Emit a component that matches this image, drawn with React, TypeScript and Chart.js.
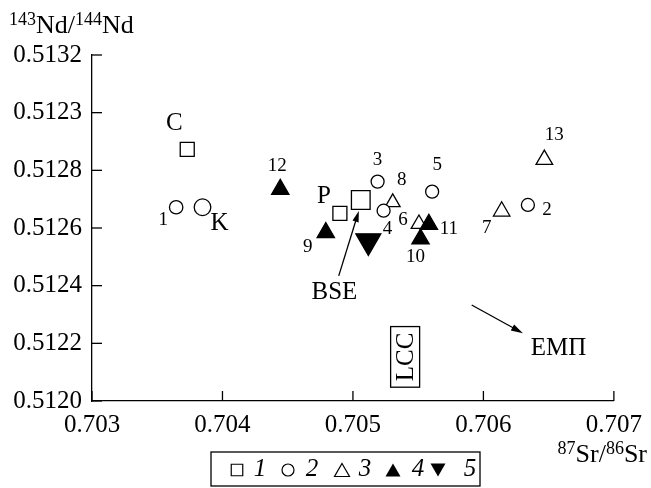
import React, { useEffect, useRef } from "react";
import { Chart, registerables } from "chart.js";

Chart.register(...registerables);

// ---------- data ----------
const xTickValues = [0.703, 0.704, 0.705, 0.706, 0.707];
const xTickLabels = ["0.703", "0.704", "0.705", "0.706", "0.707"];
const yTickValues = [0.512, 0.5122, 0.5124, 0.5126, 0.5128, 0.513, 0.5132];
const yTickLabels = ["0.5120", "0.5122", "0.5124", "0.5126", "0.5128", "0.5123", "0.5132"];

const seriesNames = ["1", "2", "3", "4", "5"];

// series 1: open squares (C, P, BSE)
const squareX = [0.70373, 0.7049, 0.70506];
const squareY = [0.512873, 0.512651, 0.512697];
const squareLabels = ["C", "P", ""];

// series 2: open circles
const circleX = [0.703645, 0.703847, 0.705189, 0.705235, 0.705607, 0.706341];
const circleY = [0.512672, 0.512672, 0.512761, 0.51266, 0.512726, 0.51268];
const circleLabels = ["1", "K", "3", "4", "5", "2"];

// series 3: open triangles
const openTriX = [0.705305, 0.705506, 0.70614, 0.706467];
const openTriY = [0.512689, 0.512614, 0.512658, 0.512837];
const openTriLabels = ["8", "6", "7", "13"];

// series 4: filled triangles
const filledTriX = [0.704443, 0.704792, 0.705518, 0.705582];
const filledTriY = [0.512734, 0.512584, 0.512562, 0.512613];
const filledTriLabels = ["12", "9", "10", "11"];

// series 5: filled down triangle
const downTriX = [0.705118];
const downTriY = [0.512555];
const downTriLabels = [""];

// annotation anchors (data coordinates)
const bseText = { x: 0.704858, y: 0.512375, text: "BSE" };
const bseArrow = { x1: 0.704891, y1: 0.512434, x2: 0.705045, y2: 0.512659 };
const empText = { x: 0.706576, y: 0.512184, text: "EMП" };
const empArrow = { x1: 0.70591, y1: 0.512333, x2: 0.706303, y2: 0.512235 };
const lccBox = { x: 0.7054, y: 0.512153, text: "LCC" };

// ---------- styles ----------
const SERIF = '"Liberation Serif", "Times New Roman", serif';
const labelOffsets: Record<string, [number, number]> = {
  C: [-13, -26],
  P: [-16, -17],
  "1": [-13, 13],
  K: [17, 16],
  "3": [0, -22],
  "4": [4, 18],
  "5": [5, -27],
  "2": [19, 5],
  "8": [9, -22],
  "6": [-16, -4],
  "7": [-15, 17],
  "13": [10, -25],
  "12": [-3, -23],
  "9": [-18, 14],
  "10": [-5, 18],
  "11": [20, 5],
};

function xy(xs: number[], ys: number[]) {
  return xs.map((x, i) => ({ x, y: ys[i] }));
}

function drawArrow(ctx: CanvasRenderingContext2D, x1: number, y1: number, x2: number, y2: number, head = 12, hw = 4) {
  const a = Math.atan2(y2 - y1, x2 - x1);
  ctx.beginPath();
  ctx.moveTo(x1, y1);
  ctx.lineTo(x2 - head * 0.6 * Math.cos(a), y2 - head * 0.6 * Math.sin(a));
  ctx.stroke();
  ctx.beginPath();
  ctx.moveTo(x2, y2);
  ctx.lineTo(x2 - head * Math.cos(a) + hw * Math.sin(a), y2 - head * Math.sin(a) - hw * Math.cos(a));
  ctx.lineTo(x2 - head * Math.cos(a) - hw * Math.sin(a), y2 - head * Math.sin(a) + hw * Math.cos(a));
  ctx.closePath();
  ctx.fill();
}

function richText(
  ctx: CanvasRenderingContext2D,
  segs: { t: string; sup?: boolean }[],
  x: number,
  y: number,
  align: "left" | "right"
) {
  const mainFont = `26px ${SERIF}`;
  const supFont = `18px ${SERIF}`;
  let total = 0;
  segs.forEach((s) => {
    ctx.font = s.sup ? supFont : mainFont;
    total += ctx.measureText(s.t).width;
  });
  let cx = align === "right" ? x - total : x;
  ctx.textAlign = "left";
  ctx.textBaseline = "alphabetic";
  segs.forEach((s) => {
    ctx.font = s.sup ? supFont : mainFont;
    ctx.fillText(s.t, cx, s.sup ? y - 8 : y);
    cx += ctx.measureText(s.t).width;
  });
}

function drawMarker(ctx: CanvasRenderingContext2D, kind: string, x: number, y: number, size: number, filled: boolean) {
  ctx.beginPath();
  if (kind === "rect") {
    ctx.rect(x - size / 2, y - size / 2, size, size);
  } else if (kind === "circle") {
    ctx.arc(x, y, size / 2, 0, Math.PI * 2);
  } else if (kind === "tri") {
    const h = size * 0.866;
    ctx.moveTo(x, y - h / 2);
    ctx.lineTo(x + size / 2, y + h / 2);
    ctx.lineTo(x - size / 2, y + h / 2);
    ctx.closePath();
  } else if (kind === "down") {
    const h = size * 0.866;
    ctx.moveTo(x, y + h / 2);
    ctx.lineTo(x + size / 2, y - h / 2);
    ctx.lineTo(x - size / 2, y - h / 2);
    ctx.closePath();
  }
  if (filled) ctx.fill();
  else {
    ctx.fillStyle = "#fff";
    ctx.fill();
    ctx.fillStyle = "#000";
    ctx.stroke();
  }
}

const allLabels = [squareLabels, circleLabels, filledTriLabels, downTriLabels, openTriLabels];

const legendBox = { x: 211, y: 452, w: 269, h: 34 };
const legendSymbols = [
  { kind: "rect", size: 11.5, filled: false },
  { kind: "circle", size: 12, filled: false },
  { kind: "tri", size: 15, filled: false },
  { kind: "tri", size: 15, filled: true },
  { kind: "down", size: 15, filled: true },
];
const legendSymOffsets = [26, 77, 131, 182, 227];
const legendTextOffsets = [49, 101, 154, 207, 259];

const overlayPlugin = {
  id: "overlay",
  afterDraw(chart: any) {
    const ctx: CanvasRenderingContext2D = chart.ctx;
    const xs = chart.scales.x;
    const ys = chart.scales.y;
    const { left, bottom } = chart.chartArea;
    ctx.save();
    ctx.strokeStyle = "#000";
    ctx.fillStyle = "#000";
    ctx.lineWidth = 1.3;

    // inward tick marks
    yTickValues.forEach((v) => {
      const py = ys.getPixelForValue(v);
      ctx.beginPath();
      ctx.moveTo(left, py);
      ctx.lineTo(left + 10, py);
      ctx.stroke();
    });
    xTickValues.forEach((v) => {
      const px = xs.getPixelForValue(v);
      ctx.beginPath();
      ctx.moveTo(px, bottom);
      ctx.lineTo(px, bottom - 10);
      ctx.stroke();
    });

    // point labels
    ctx.textAlign = "center";
    ctx.textBaseline = "middle";
    chart.data.datasets.forEach((_ds: any, di: number) => {
      const meta = chart.getDatasetMeta(di);
      const labels = allLabels[di];
      meta.data.forEach((el: any, i: number) => {
        const t = labels[i];
        if (!t) return;
        const off = labelOffsets[t] || [0, -20];
        const isLetter = /[A-Z]/.test(t);
        ctx.font = `${isLetter ? 25 : 19}px ${SERIF}`;
        ctx.fillText(t, el.x + off[0], el.y + off[1]);
      });
    });

    // BSE
    ctx.font = `25px ${SERIF}`;
    ctx.fillText(bseText.text, xs.getPixelForValue(bseText.x), ys.getPixelForValue(bseText.y));
    drawArrow(
      ctx,
      xs.getPixelForValue(bseArrow.x1),
      ys.getPixelForValue(bseArrow.y1),
      xs.getPixelForValue(bseArrow.x2),
      ys.getPixelForValue(bseArrow.y2),
      11,
      3.2
    );
    // EMП
    ctx.fillText(empText.text, xs.getPixelForValue(empText.x), ys.getPixelForValue(empText.y));
    drawArrow(
      ctx,
      xs.getPixelForValue(empArrow.x1),
      ys.getPixelForValue(empArrow.y1),
      xs.getPixelForValue(empArrow.x2),
      ys.getPixelForValue(empArrow.y2),
      12,
      3.5
    );
    // LCC box
    {
      const cx = xs.getPixelForValue(lccBox.x);
      const cy = ys.getPixelForValue(lccBox.y);
      ctx.font = `25px ${SERIF}`;
      const tw = ctx.measureText(lccBox.text).width;
      const bw = 29;
      const bh = tw + 12;
      ctx.strokeRect(cx - bw / 2, cy - bh / 2, bw, bh);
      ctx.save();
      ctx.translate(cx + 1, cy);
      ctx.rotate(-Math.PI / 2);
      ctx.textAlign = "center";
      ctx.textBaseline = "middle";
      ctx.fillText(lccBox.text, 0, 0);
      ctx.restore();
    }

    // axis titles
    richText(ctx, [{ t: "143", sup: true }, { t: "Nd" }, { t: "/" }, { t: "144", sup: true }, { t: "Nd" }], 9, 33, "left");
    richText(ctx, [{ t: "87", sup: true }, { t: "Sr" }, { t: "/" }, { t: "86", sup: true }, { t: "Sr" }], 647, 462, "right");

    // legend
    ctx.lineWidth = 1.3;
    ctx.strokeRect(legendBox.x, legendBox.y, legendBox.w, legendBox.h);
    const ly = legendBox.y + legendBox.h / 2;
    legendSymbols.forEach((s, i) => {
      ctx.lineWidth = 1.2;
      drawMarker(ctx, s.kind, legendBox.x + legendSymOffsets[i], ly + 1, s.size, s.filled);
      ctx.font = `italic 25px ${SERIF}`;
      ctx.textAlign = "center";
      ctx.textBaseline = "middle";
      ctx.fillText(seriesNames[i], legendBox.x + legendTextOffsets[i], ly);
    });

    ctx.restore();
  },
};

export default function App() {
  const canvasRef = useRef<HTMLCanvasElement | null>(null);

  useEffect(() => {
    if (!canvasRef.current) return;
    const base = {
      borderColor: "#000",
      borderWidth: 1.3,
      pointBorderWidth: 1.3,
      showLine: false,
      clip: false as any,
    };
    const chart = new Chart(canvasRef.current, {
      type: "scatter",
      data: {
        datasets: [
          {
            ...base,
            label: seriesNames[0],
            data: xy(squareX, squareY),
            pointStyle: "rect",
            pointRadius: [9.9, 9.9, 13.2],
            pointHoverRadius: [9.9, 9.9, 13.2],
            backgroundColor: "#fff",
            order: 0,
          },
          {
            ...base,
            label: seriesNames[1],
            data: xy(circleX, circleY),
            pointStyle: "circle",
            pointRadius: [6.7, 8.3, 6.5, 6.5, 6.5, 6.5],
            pointHoverRadius: [6.7, 8.3, 6.5, 6.5, 6.5, 6.5],
            backgroundColor: "#fff",
            order: 1,
          },
          {
            ...base,
            label: seriesNames[3],
            data: xy(filledTriX, filledTriY),
            pointStyle: "triangle",
            pointRadius: 10,
            pointHoverRadius: 10,
            backgroundColor: "#000",
            order: 0,
          },
          {
            ...base,
            label: seriesNames[4],
            data: xy(downTriX, downTriY),
            pointStyle: "triangle",
            rotation: 180,
            pointRadius: 14.4,
            pointHoverRadius: 14.4,
            backgroundColor: "#000",
            order: 0,
          },
          {
            ...base,
            label: seriesNames[2],
            data: xy(openTriX, openTriY),
            pointStyle: "triangle",
            pointRadius: [8.5, 9, 9.5, 9.6],
            pointHoverRadius: [8.5, 9, 9.5, 9.6],
            backgroundColor: "#fff",
            order: 2,
          },
        ] as any,
      },
      options: {
        animation: false,
        responsive: true,
        maintainAspectRatio: false,
        events: [],
        layout: { padding: { left: 0, top: 55, right: 33, bottom: 0 } },
        plugins: {
          legend: { display: false },
          tooltip: { enabled: false },
          title: { display: false },
        },
        scales: {
          x: {
            type: "linear",
            min: 0.703,
            max: 0.707,
            offset: false,
            grid: { display: false, drawTicks: false },
            border: { display: true, color: "#000", width: 1.3 },
            afterBuildTicks: (s: any) => {
              s.ticks = xTickValues.map((v) => ({ value: v }));
            },
            afterFit: (s: any) => {
              s.height = 87;
            },
            ticks: {
              color: "#000",
              font: { family: SERIF, size: 25 },
              padding: 9,
              maxRotation: 0,
              autoSkip: false,
              callback: (_v: any, i: number) => xTickLabels[i],
            },
          },
          y: {
            type: "linear",
            min: 0.512,
            max: 0.5132,
            grid: { display: false, drawTicks: false },
            border: { display: true, color: "#000", width: 1.3 },
            afterBuildTicks: (s: any) => {
              s.ticks = yTickValues.map((v) => ({ value: v }));
            },
            afterFit: (s: any) => {
              s.width = 92;
            },
            ticks: {
              color: "#000",
              font: { family: SERIF, size: 25 },
              padding: 10,
              autoSkip: false,
              callback: (_v: any, i: number) => yTickLabels[i],
            },
          },
        },
      } as any,
      plugins: [overlayPlugin],
    });
    return () => chart.destroy();
  }, []);

  return (
    <div style={{ position: "absolute", left: 0, top: 0, width: 651, height: 488, background: "#fff" }}>
      <canvas ref={canvasRef} />
    </div>
  );
}
